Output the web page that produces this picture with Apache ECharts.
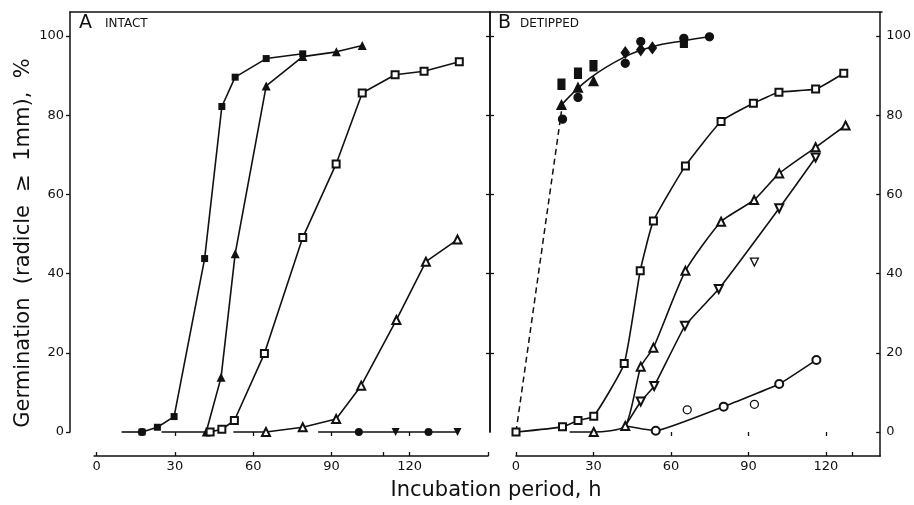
<!DOCTYPE html>
<html><head><meta charset="utf-8">
<script src="https://cdn.jsdelivr.net/npm/echarts@6/dist/echarts.min.js"></script>
<style>html,body{margin:0;background:#fff}#c{width:914px;height:505px}</style>
</head><body><div id="c"></div>
<script>
// ---------- DATA (hours, % germination) ----------
const xTickLabels = [0, 30, 60, 90, 120];
const yTickLabels = [0, 20, 40, 60, 80, 100];

// Panel A: intact
const A_filledSquare   = [[17.4,0],[23.3,1.2],[29.7,3.9],[41.4,43.8],[48.0,82.2],[53.1,89.6],[65.0,94.3],[79.0,95.5]];
const A_filledTriangle = [[24.9,0],[42.0,0],[47.7,13.8],[53.1,45.0],[65.0,87.4],[79.0,94.8],[91.9,96.0],[101.8,97.6]];
const A_openSquare     = [[43.5,0],[48.0,0.7],[52.8,2.9],[64.3,19.8],[79.0,49.1],[91.8,67.7],[101.8,85.6],[114.4,90.2],[125.5,91.1],[139.0,93.5]];
const A_openTriangle   = [[52.4,0],[64.9,0],[79.0,1.2],[91.8,3.3],[101.4,11.7],[114.9,28.3],[126.2,43.0],[138.3,48.6]];
const A_zeroEarly      = [[9.6,0],[17.4,0]];
const A_zeroLate       = [[84.9,0],[100.5,0],[114.6,0],[127.2,0],[138.3,0]];

// Panel B: detipped
const B_dashed         = [[0,0],[17.6,81.0]];
const B_filledCurve    = [[17.6,82.6],[28.5,89.3],[42.3,94.8],[52.8,97.3],[65.0,98.8],[74.9,99.8]];
const B_filledCircle   = [[18.0,79.0],[24.0,84.5],[42.3,93.1],[48.3,98.6],[65.0,99.4],[74.9,99.8]];
const B_filledTriangle = [[17.6,82.6],[24.0,87.0],[30.0,88.6]];
const B_filledSquare   = [[17.6,87.8],[24.0,90.6],[30.0,92.5],[65.0,98.4]];
const B_filledDiamond  = [[42.3,95.8],[48.3,96.5],[52.8,97.0]];
const B_openSquare     = [[0,0],[18.0,1.3],[24.0,2.9],[30.1,4.0],[41.9,17.3],[48.1,40.7],[53.2,53.3],[65.6,67.2],[79.4,78.4],[91.9,83.0],[101.8,85.8],[116.0,86.6],[126.9,90.6]];
const B_openTriangle   = [[20.8,0],[30.1,0],[42.3,1.5],[48.3,16.5],[53.2,21.3],[65.6,40.7],[79.4,53.1],[92.2,58.6],[101.9,65.3],[116.0,71.9],[127.6,77.4]];
const B_openDown       = [[42.3,1.5],[48.3,7.7],[53.5,11.6],[65.4,26.8],[78.5,36.1],[101.9,56.5],[116.0,69.3]];
const B_openDownExtra  = [[92.3,42.9]];
const B_openCircle     = [[42.3,1.5],[54.1,0.3],[80.4,6.4],[101.9,12.1],[116.3,18.2]];
const B_openCircleExtra= [[66.3,5.6],[92.3,7.0]];

// ---------- STYLE / LAYOUT ----------
const FONT = '"DejaVu Sans", Lato, sans-serif';
const INK = '#111';
const AX = {color: INK, width: 1.5};
const Y0 = -6.06, Y1 = 106.06;

function hideFirst(d){ return d.map((p,i)=> i===0 ? {value:p, symbol:'none'} : p); }
function symbolsFor(d, list){ return d.map((p,i)=> list[i]==='none' ? {value:p, symbol:'none'} :
  (list[i]==='down' ? {value:p, symbol:'triangle', symbolRotate:180} : {value:p, symbol:list[i]})); }

function ln(data, xi, yi, symbol, extra){
  return Object.assign({
    type:'line', xAxisIndex:xi, yAxisIndex:yi, data:data, symbol:symbol, symbolSize:7,
    showAllSymbol:true, clip:false, animation:false,
    lineStyle:{color:INK, width:1.6}, itemStyle:{color:INK, borderWidth:1.3, opacity:1}, z:3
  }, extra||{});
}
function sc(data, xi, yi, symbol, size, extra){
  return Object.assign({
    type:'scatter', xAxisIndex:xi, yAxisIndex:yi, data:data, symbol:symbol, symbolSize:size,
    clip:false, animation:false, itemStyle:{color:INK, borderColor:INK, borderWidth:1.3, opacity:1}, z:4
  }, extra||{});
}

const tickStyle = {color: INK, width: 1.3};
const labelStyle = {color: INK, fontSize: 13, fontFamily: FONT};

const option = {
  backgroundColor:'#fff',
  animation:false,
  grid:[
    {left:94, top:12, width:394, height:444},
    {left:70, top:12, width:420, height:420},
    {left:516, top:12, width:366, height:444},
    {left:490, top:12, width:392, height:420}
  ],
  xAxis:[
    {gridIndex:0, type:'value', min:-1, max:150, position:'bottom',
     axisLine:{onZero:false, lineStyle:AX},
     axisTick:{inside:true, length:4, customValues:[0,30,60,90,110,120,150], lineStyle:tickStyle},
     axisLabel:Object.assign({customValues:xTickLabels, margin:4}, labelStyle), splitLine:{show:false}},
    {gridIndex:0, type:'value', min:-1, max:150, position:'top',
     axisLine:{show:false}, axisTick:{inside:true, length:4, customValues:[30,60,90,120], lineStyle:tickStyle},
     axisLabel:{show:false}, splitLine:{show:false}},
    {gridIndex:1, type:'value', min:0, max:1, position:'top',
     axisLine:{onZero:false, lineStyle:AX}, axisTick:{show:false}, axisLabel:{show:false}, splitLine:{show:false}},
    {gridIndex:2, type:'value', min:0, max:141, position:'bottom',
     axisLine:{onZero:false, lineStyle:AX},
     axisTick:{inside:true, length:4, customValues:[0,30,60,90,120,130], lineStyle:tickStyle},
     axisLabel:Object.assign({customValues:xTickLabels, margin:4}, labelStyle), splitLine:{show:false}},
    {gridIndex:2, type:'value', min:0, max:141, position:'top',
     axisLine:{show:false}, axisTick:{inside:true, length:4, customValues:[30,60,90,120], lineStyle:tickStyle},
     axisLabel:{show:false}, splitLine:{show:false}},
    {gridIndex:3, type:'value', min:0, max:1, position:'top',
     axisLine:{onZero:false, lineStyle:AX}, axisTick:{show:false}, axisLabel:{show:false}, splitLine:{show:false}}
  ],
  yAxis:[
    {gridIndex:0, type:'value', min:Y0, max:Y1, show:false},
    {gridIndex:1, type:'value', min:0, max:Y1, position:'left',
     axisLine:{show:true, onZero:false, lineStyle:AX},
     axisTick:{show:true, inside:false, length:4, customValues:yTickLabels, lineStyle:tickStyle},
     axisLabel:Object.assign({customValues:yTickLabels, margin:6}, labelStyle), splitLine:{show:false}},
    {gridIndex:1, type:'value', min:0, max:Y1, position:'right',
     axisLine:{show:true, onZero:false, lineStyle:AX},
     axisTick:{show:true, inside:true, length:4, customValues:[20,40,60,80,100], lineStyle:tickStyle},
     axisLabel:{show:false}, splitLine:{show:false}},
    {gridIndex:2, type:'value', min:Y0, max:Y1, position:'right',
     axisLine:{show:true, onZero:false, lineStyle:AX},
     axisTick:{show:true, inside:true, length:4, customValues:yTickLabels, lineStyle:tickStyle},
     axisLabel:Object.assign({customValues:yTickLabels, margin:6}, labelStyle), splitLine:{show:false}},
    {gridIndex:3, type:'value', min:0, max:Y1, position:'left',
     axisLine:{show:true, onZero:false, lineStyle:AX},
     axisTick:{show:true, inside:true, length:4, customValues:[20,40,60,80,100], lineStyle:tickStyle},
     axisLabel:{show:false}, splitLine:{show:false}}
  ],
  graphic:[
    {type:'text', x:79, y:23, style:{text:'A', fontSize:19, fontFamily:FONT, fill:INK, verticalAlign:'middle'}},
    {type:'text', x:105, y:24, style:{text:'INTACT', fontSize:12, fontFamily:FONT, fill:INK, verticalAlign:'middle'}},
    {type:'text', x:498, y:23, style:{text:'B', fontSize:19, fontFamily:FONT, fill:INK, verticalAlign:'middle'}},
    {type:'text', x:520, y:24, style:{text:'DETIPPED', fontSize:12, fontFamily:FONT, fill:INK, verticalAlign:'middle'}},
    {type:'text', x:24, y:243, rotation:Math.PI/2,
     style:{text:'Germination  (radicle  \u2265  1mm),  %', fontSize:21, fontFamily:FONT, fill:INK, align:'center', verticalAlign:'middle'}},
    {type:'text', x:496, y:491,
     style:{text:'Incubation period, h', fontSize:21, fontFamily:FONT, fill:INK, align:'center', verticalAlign:'middle'}}
  ],
  series:[
    // Panel A
    ln(A_zeroEarly, 0, 0, 'circle', {data:symbolsFor(A_zeroEarly, ['none','circle']), symbolSize:8}),
    ln(A_zeroLate, 0, 0, 'circle', {data:symbolsFor(A_zeroLate, ['none','circle','down','circle','down']), symbolSize:8}),
    ln(hideFirst(A_filledTriangle), 0, 0, 'triangle', {symbolSize:9}),
    ln(A_filledSquare, 0, 0, 'rect', {symbolSize:7}),
    ln(A_openSquare, 0, 0, 'emptyRect', {symbolSize:7}),
    ln(hideFirst(A_openTriangle), 0, 0, 'emptyTriangle', {symbolSize:8}),
    // Panel B
    ln(B_dashed, 3, 3, 'none', {lineStyle:{color:INK, width:1.5, type:[6,4]}}),
    ln(B_filledCurve, 3, 3, 'none', {smooth:0.4}),
    sc(B_filledSquare, 3, 3, 'rect', [7,10]),
    sc(B_filledTriangle, 3, 3, 'triangle', 9),
    sc(B_filledDiamond, 3, 3, 'diamond', [8,11]),
    sc(B_filledCircle, 3, 3, 'circle', 8),
    ln(B_openSquare, 3, 3, 'emptyRect', {symbolSize:7, smooth:0.15}),
    ln(hideFirst(B_openTriangle), 3, 3, 'emptyTriangle', {symbolSize:8, smooth:0.2}),
    ln(hideFirst(B_openDown), 3, 3, 'emptyTriangle', {symbolSize:8, symbolRotate:180, smooth:0.1}),
    sc(B_openDownExtra, 3, 3, 'triangle', 8, {symbolRotate:180, itemStyle:{color:'#fff', borderColor:INK, borderWidth:1.3, opacity:1}}),
    ln(hideFirst(B_openCircle), 3, 3, 'emptyCircle', {symbolSize:8, smooth:0.1}),
    sc(B_openCircleExtra, 3, 3, 'circle', 8, {itemStyle:{color:'#fff', borderColor:INK, borderWidth:1.3, opacity:1}})
  ]
};
const chart = echarts.init(document.getElementById('c'), null, {renderer:'canvas'});
chart.setOption(option);
</script></body></html>
